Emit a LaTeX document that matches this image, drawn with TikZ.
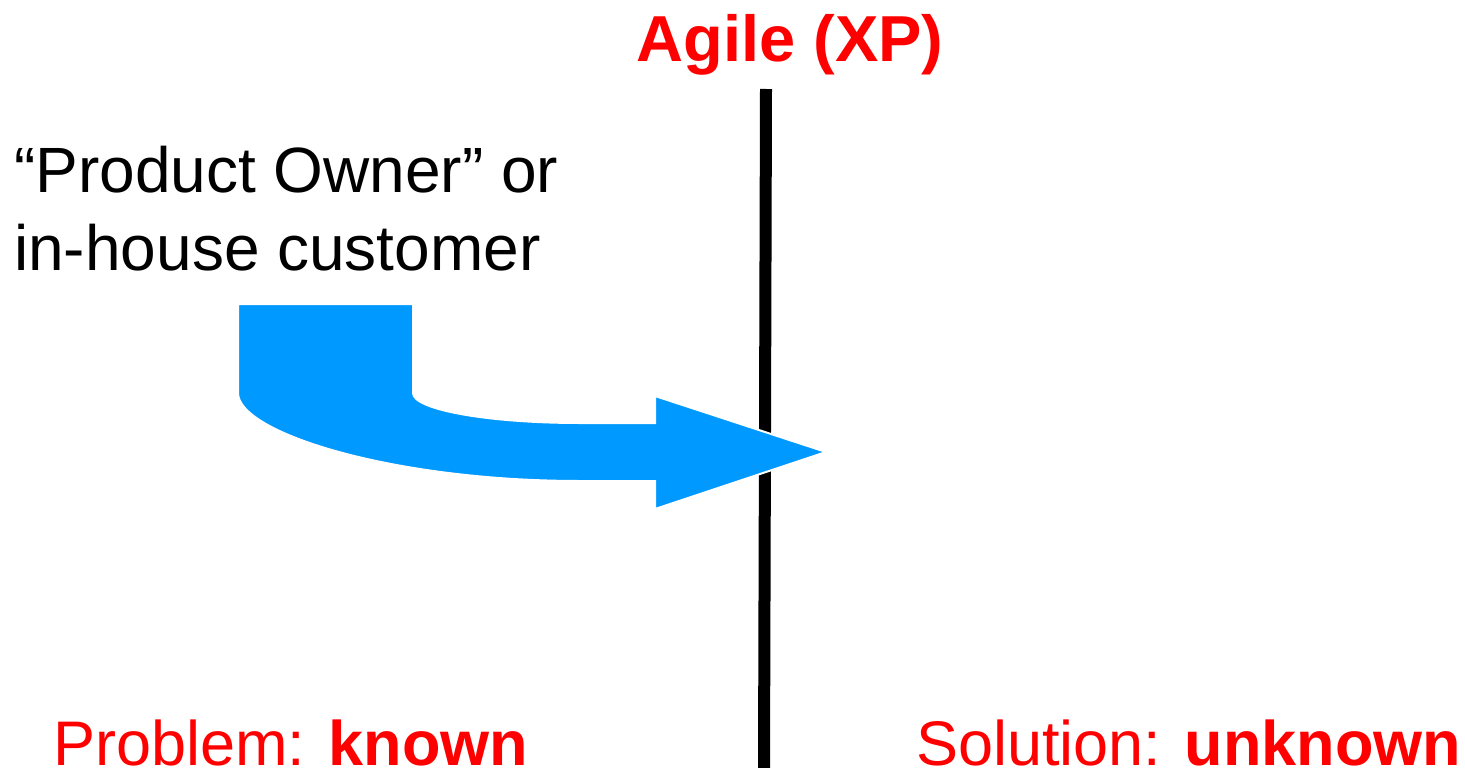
\documentclass[tikz,border=0pt]{standalone}
\usepackage{fontspec}
\setmainfont{Liberation Sans}
\definecolor{flowblue}{RGB}{0,153,255}
\definecolor{hotred}{RGB}{255,0,0}
\tikzset{
  label64/.style={inner sep=0pt, font=\fontsize{64}{78}\selectfont},
  label63/.style={inner sep=0pt, text=hotred, font=\fontsize{63}{76}\selectfont},
  title65/.style={inner sep=0pt, text=hotred, font=\fontsize{65}{78}\selectfont\bfseries},
  bigarrow/.style={fill=flowblue, draw=white, line width=2pt, line join=miter},
}
\begin{document}
\begin{tikzpicture}[x=1pt,y=-1pt]
  \useasboundingbox (0,0) rectangle (1465,768);

  % dividing line
  \coordinate (lineTop) at (766,89);
  \coordinate (lineBot) at (764,768);
  \draw[line width=12pt] (lineTop) -- (lineBot);

  % heading
  \node[title65, anchor=base] (agile) at (790,62) {Agile (XP)};

  % role text (anchor is the baseline of the last line)
  \node[label64, anchor=base west, align=left] (owner) at (14,270)
    {“Product Owner” or\\in-house customer};

  % bent block arrow
  \path[bigarrow]
    (238,304) -- (413,304) -- (413,393)
    .. controls (413,409.6) and (487.8,423) .. (580,423)
    -- (655,423) -- (655,396) -- (826,452) -- (655,509) -- (655,481)
    -- (580,481)
    .. controls (391,481) and (238,432.4) .. (238,393)
    -- cycle;

  % bottom labels
  \node[label63, anchor=base west] (problem) at (53,765)
    {Problem: \textbf{known}};
  \node[label63, anchor=base west] (solution) at (916,765)
    {Solution: \textbf{unknown}};
\end{tikzpicture}
\end{document}
